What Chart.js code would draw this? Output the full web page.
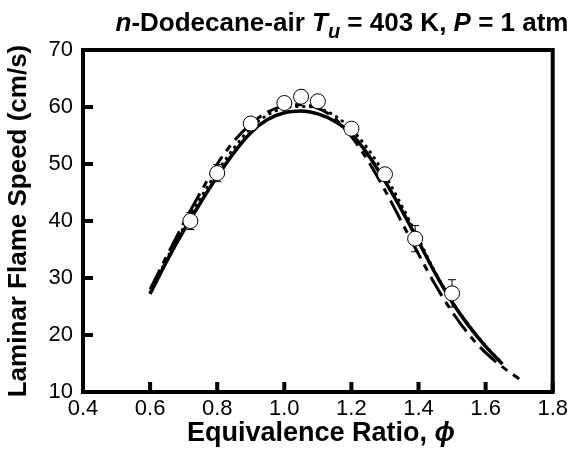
<!DOCTYPE html>
<html lang="en">
<head>
<meta charset="UTF-8">
<script src="https://cdn.jsdelivr.net/npm/chart.js"></script>
<title>n-Dodecane-air flame speed</title>
<style>
  body { margin: 0; background: #fff; }
  canvas { display: block; }
</style>
</head>
<body>
<canvas id="flameChart" width="572" height="453"></canvas>
<script>
// measured points (open circles) with error bars
const expPhi = [0.72, 0.80, 0.90, 1.00, 1.05, 1.10, 1.20, 1.30, 1.39, 1.50];
const expSL  = [40.0, 48.4, 57.1, 60.7, 61.8, 61.0, 56.2, 48.2, 36.9, 27.3];
const expErr = [1.5, 1.5, 1.0, 0.8, 0.8, 0.8, 0.8, 1.0, 2.3, 2.4];

// model curves
const curvePhi = [0.60, 0.65, 0.70, 0.75, 0.80, 0.85, 0.90, 0.95, 1.00, 1.05, 1.10,
                  1.15, 1.20, 1.25, 1.30, 1.35, 1.40, 1.45, 1.50, 1.55, 1.60, 1.65];
const solidSL  = [27.2, 33.0, 38.3, 43.2, 47.8, 52.0, 55.5, 57.8, 59.0, 59.3, 58.8,
                  57.5, 55.3, 51.6, 47.0, 41.9, 36.4, 30.8, 25.8, 21.6, 18.0, 14.9];
const dottedSL = [27.5, 33.4, 38.9, 44.0, 48.7, 52.8, 56.3, 58.6, 59.8, 60.1, 59.8,
                  58.5, 56.1, 52.6, 48.1, 42.7, 36.9, 31.0, 25.9, 21.7, 18.1, 15.0];
const dashPhi  = [0.60, 0.65, 0.70, 0.75, 0.80, 0.85, 0.90, 0.95, 1.00, 1.05, 1.10,
                  1.15, 1.20, 1.25, 1.30, 1.35, 1.40, 1.45, 1.50, 1.55, 1.60, 1.65, 1.70];
const dashedSL = [28.0, 33.9, 39.6, 45.0, 50.0, 54.0, 57.0, 59.1, 60.2, 60.4, 59.8,
                  58.0, 54.8, 50.5, 45.4, 39.8, 34.2, 28.8, 24.1, 20.1, 16.9, 14.4, 12.3];

// axis ticks
const xTicks = [0.4, 0.6, 0.8, 1.0, 1.2, 1.4, 1.6, 1.8];
const yTicks = [10, 20, 30, 40, 50, 60, 70];

const FONT = '"Liberation Sans", Arial, sans-serif';

function pts(xs, ys) {
    return xs.map((x, i) => ({ x: x, y: ys[i] }));
}

// frame + inward tick marks
const framePlugin = {
    id: 'frame',
    afterDraw(chart) {
        const { ctx, chartArea: a, scales } = chart;
        ctx.save();
        ctx.strokeStyle = '#000';
        ctx.lineWidth = 4;
        ctx.strokeRect(a.left, a.top, a.right - a.left, a.bottom - a.top);
        ctx.beginPath();
        xTicks.forEach(v => {
            const px = scales.x.getPixelForValue(v);
            ctx.moveTo(px, a.bottom);
            ctx.lineTo(px, a.bottom - 10);
        });
        yTicks.forEach(v => {
            const py = scales.y.getPixelForValue(v);
            ctx.moveTo(a.left, py);
            ctx.lineTo(a.left + 10, py);
        });
        ctx.stroke();
        ctx.restore();
    }
};

// error bars under the circles
const errorPlugin = {
    id: 'errorBars',
    beforeDatasetsDraw(chart) {
        const { ctx, scales } = chart;
        ctx.save();
        ctx.strokeStyle = '#000';
        ctx.lineWidth = 1;
        ctx.beginPath();
        expPhi.forEach((x, i) => {
            const px = scales.x.getPixelForValue(x);
            const top = scales.y.getPixelForValue(expSL[i] + expErr[i]);
            const bot = scales.y.getPixelForValue(expSL[i] - expErr[i]);
            ctx.moveTo(px, top); ctx.lineTo(px, bot);
            ctx.moveTo(px - 4, top); ctx.lineTo(px + 4, top);
            ctx.moveTo(px - 4, bot); ctx.lineTo(px + 4, bot);
        });
        ctx.stroke();
        ctx.restore();
    }
};

// title and x-axis title with italic / subscript parts
function drawRich(ctx, parts, x, y, size) {
    let cx = x;
    parts.forEach(p => {
        const fs = p.sub ? Math.round(size * 0.75) : size;
        ctx.font = (p.it ? 'italic ' : '') + 'bold ' + fs + 'px ' + FONT;
        ctx.fillText(p.t, cx, y + (p.sub ? 7 : 0));
        cx += ctx.measureText(p.t).width;
    });
}
function richWidth(ctx, parts, size) {
    let w = 0;
    parts.forEach(p => {
        const fs = p.sub ? Math.round(size * 0.75) : size;
        ctx.font = (p.it ? 'italic ' : '') + 'bold ' + fs + 'px ' + FONT;
        w += ctx.measureText(p.t).width;
    });
    return w;
}

const titleParts = [
    { t: 'n', it: true }, { t: '-Dodecane-air ' }, { t: 'T', it: true }, { t: 'u', it: true, sub: true },
    { t: ' = 403 K, ' }, { t: 'P', it: true }, { t: ' = 1 atm' }
];
const xTitleParts = [{ t: 'Equivalence Ratio, ' }, { t: '\u03D5', it: true }];

const textPlugin = {
    id: 'texts',
    afterDraw(chart) {
        const { ctx } = chart;
        ctx.save();
        ctx.fillStyle = '#000';
        ctx.textBaseline = 'alphabetic';
        ctx.textAlign = 'left';
        const tw = richWidth(ctx, titleParts, 26);
        drawRich(ctx, titleParts, 342 - tw / 2, 31, 26);
        const xw = richWidth(ctx, xTitleParts, 27);
        drawRich(ctx, xTitleParts, 321 - xw / 2, 441, 27);
        ctx.restore();
    }
};

const ctx = document.getElementById('flameChart').getContext('2d');
new Chart(ctx, {
    type: 'scatter',
    data: {
        datasets: [
            {
                label: 'Experiment',
                data: pts(expPhi, expSL),
                showLine: false,
                pointRadius: 7.5,
                pointBackgroundColor: '#fff',
                pointBorderColor: '#000',
                pointBorderWidth: 1,
                order: 0
            },
            {
                label: 'Model 1',
                data: pts(curvePhi, solidSL),
                showLine: true,
                borderColor: '#000',
                borderWidth: 3.5,
                pointRadius: 0,
                cubicInterpolationMode: 'monotone',
                order: 1
            },
            {
                label: 'Model 2',
                data: pts(dashPhi, dashedSL),
                showLine: true,
                borderColor: '#000',
                borderWidth: 3,
                borderDash: [22, 7, 7, 7],
                pointRadius: 0,
                cubicInterpolationMode: 'monotone',
                order: 2
            },
            {
                label: 'Model 3',
                data: pts(curvePhi, dottedSL),
                showLine: true,
                borderColor: '#000',
                borderWidth: 3,
                borderDash: [0.5, 6.5],
                borderCapStyle: 'round',
                pointRadius: 0,
                cubicInterpolationMode: 'monotone',
                order: 3
            }
        ]
    },
    options: {
        responsive: false,
        animation: false,
        layout: { padding: { top: 50, right: 15, left: 0, bottom: 0 } },
        plugins: {
            legend: { display: false },
            tooltip: { enabled: false }
        },
        scales: {
            x: {
                type: 'linear',
                min: 0.4,
                max: 1.8,
                afterBuildTicks: s => { s.ticks = xTicks.map(v => ({ value: v })); },
                afterFit: s => { s.height = 61; },
                grid: { display: false, drawTicks: false },
                border: { display: false },
                ticks: {
                    padding: 4,
                    color: '#000',
                    font: { family: FONT, size: 22 },
                    callback: v => v.toFixed(1)
                }
            },
            y: {
                min: 10,
                max: 70,
                afterBuildTicks: s => { s.ticks = yTicks.map(v => ({ value: v })); },
                afterFit: s => { s.width = 83; },
                grid: { display: false, drawTicks: false },
                border: { display: false },
                ticks: {
                    padding: 10,
                    color: '#000',
                    font: { family: FONT, size: 22 },
                    callback: v => String(v)
                },
                title: {
                    display: true,
                    text: 'Laminar Flame Speed (cm/s)',
                    color: '#000',
                    font: { family: FONT, size: 26, weight: 'bold' },
                    padding: { top: 3, bottom: 0 }
                }
            }
        }
    },
    plugins: [errorPlugin, framePlugin, textPlugin]
});
</script>
</body>
</html>
